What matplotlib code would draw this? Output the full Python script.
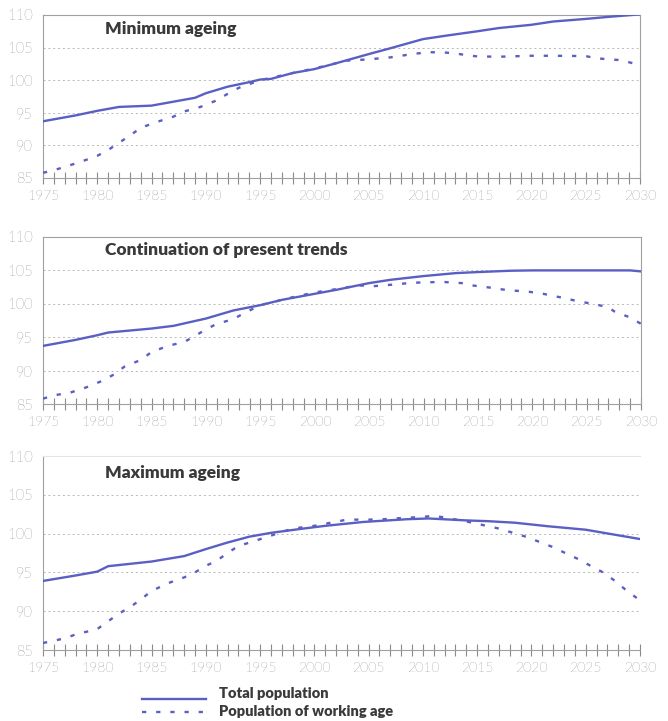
import matplotlib
matplotlib.use("Agg")
import matplotlib.pyplot as plt
from matplotlib.lines import Line2D

# ---- data: index of population (1995 = 100) ----
titles = ["Minimum ageing", "Continuation of present trends", "Maximum ageing"]

min_total_years = [1975, 1978, 1980, 1982, 1985, 1987, 1989, 1990, 1992, 1994, 1995, 1996, 1998,
                   2000, 2002, 2005, 2007, 2010, 2012, 2015, 2017, 2020, 2022, 2025, 2027, 2030]
min_total = [93.7, 94.6, 95.3, 95.9, 96.1, 96.7, 97.3, 98.0, 99.0, 99.7, 100.1, 100.2, 101.1,
             101.7, 102.6, 104.0, 104.9, 106.3, 106.8, 107.5, 108.0, 108.5, 109.0, 109.4, 109.7, 110.1]
min_work_years = [1975, 1976, 1977, 1978.5, 1980, 1981, 1982, 1983, 1984, 1985.5, 1987, 1988,
                  1989.5, 1991, 1992, 1993, 1995, 1998, 2000, 2002, 2003, 2005, 2007, 2009,
                  2010.5, 2012, 2013, 2014, 2015, 2017, 2020, 2022, 2025, 2026, 2028, 2029, 2030]
min_work = [85.8, 86.2, 86.7, 87.5, 88.4, 89.3, 90.4, 91.5, 92.7, 93.6, 94.4, 95.2,
            95.9, 96.9, 97.9, 98.8, 100.0, 101.1, 101.8, 102.6, 103.0, 103.2, 103.5, 104.0,
            104.3, 104.25, 104.1, 103.85, 103.65, 103.6, 103.75, 103.75, 103.7, 103.35, 103.1, 102.75, 102.3]

cont_total_years = [1975, 1978, 1980, 1981, 1985, 1987, 1990, 1992.5, 1995, 1997, 2000, 2002,
                    2005, 2007, 2010, 2013, 2015, 2018, 2020, 2025, 2029, 2030]
cont_total = [93.7, 94.6, 95.3, 95.7, 96.3, 96.7, 97.8, 99.0, 99.8, 100.6, 101.5, 102.1,
              103.1, 103.6, 104.15, 104.6, 104.75, 104.95, 105.0, 105.0, 105.0, 104.85]
cont_work_years = [1975, 1976, 1977.5, 1979, 1980.5, 1981.5, 1982.5, 1984, 1985, 1986.5, 1988,
                   1989, 1990, 1991, 1992.5, 1993.5, 1995, 1998, 2000, 2002, 2004, 2005.5, 2007,
                   2009, 2011, 2012, 2013.5, 2014.5, 2016, 2017, 2018, 2019.5, 2021, 2022, 2023,
                   2024, 2025.5, 2027, 2027.5, 2029, 2030]
cont_work = [85.8, 86.3, 86.7, 87.5, 88.5, 89.4, 90.6, 91.6, 92.8, 93.7, 94.3,
             95.2, 96.2, 97.0, 97.7, 98.6, 99.8, 101.0, 101.7, 102.2, 102.75, 102.65, 102.85,
             103.15, 103.25, 103.25, 103.1, 102.75, 102.45, 102.2, 102.0, 101.85, 101.5, 101.15, 100.85,
             100.45, 100.0, 99.5, 98.9, 97.95, 97.0]

max_total_years = [1975, 1978, 1980, 1981, 1985, 1988, 1990, 1992, 1994, 1996, 1999, 2001,
                   2004.5, 2008.5, 2010.5, 2014, 2016, 2018.5, 2021.5, 2025, 2027.5, 2030]
max_total = [93.9, 94.6, 95.1, 95.8, 96.4, 97.1, 98.0, 98.85, 99.6, 100.1, 100.65, 101.0,
             101.5, 101.85, 101.95, 101.7, 101.6, 101.4, 100.95, 100.5, 99.9, 99.3]
max_work_years = [1975, 1977, 1978, 1980, 1981, 1982, 1983, 1984, 1985, 1986.5, 1988, 1989,
                  1990, 1991, 1992, 1993, 1994.5, 1997, 1998, 2000, 2001.5, 2003, 2005, 2006.3,
                  2008, 2010, 2011, 2012.3, 2014.6, 2016, 2017, 2018.3, 2019.6, 2020.6, 2022,
                  2023.4, 2024.5, 2025.5, 2026.6, 2027.7, 2028.6, 2029.7, 2030]
max_work = [85.9, 86.5, 87.0, 87.7, 88.7, 89.7, 90.5, 91.5, 92.6, 93.6, 94.35, 95.0,
            95.85, 96.5, 97.5, 98.4, 99.05, 100.2, 100.65, 101.0, 101.4, 101.8, 101.8, 101.85,
            102.0, 102.15, 102.3, 102.0, 101.4, 100.95, 100.65, 100.1, 99.55, 99.0, 98.25,
            97.3, 96.6, 95.8, 95.0, 93.9, 92.85, 91.7, 91.3]

panels = [
    (min_total_years, min_total, min_work_years, min_work),
    (cont_total_years, cont_total, cont_work_years, cont_work),
    (max_total_years, max_total, max_work_years, max_work),
]

y_ticks = [85, 90, 95, 100, 105, 110]
x_ticks = list(range(1975, 2031, 5))
legend_labels = ["Total population", "Population of working age"]

# ---- style ----
LINE = "#5a5fc4"
TXT = "#3a3a3a"
AX = "#a0a0a0"
DASH = (0, (1.8, 4.2))
W, H = 668, 721

fig = plt.figure(figsize=(W / 100, H / 100), dpi=100)

# axes boxes in pixels: (left, right, top, bottom)
boxes = [(43, 640, 15, 178), (43, 641, 237, 404), (43, 640, 456, 650)]
title_pos = [(105, 29), (105, 250), (105, 473)]

for i, ((ty, tv, wy, wv), (l, r, t, b)) in enumerate(zip(panels, boxes)):
    ax = fig.add_axes([l / W, 1 - b / H, (r - l) / W, (b - t) / H])
    ax.set_xlim(1975, 2030)
    ax.set_ylim(85, 110)
    ax.plot(ty, tv, color=LINE, lw=1.7, solid_capstyle="round", zorder=3)
    ax.plot(wy, wv, color=LINE, lw=1.7, linestyle=DASH, zorder=3)

    for g in y_ticks[1:-1]:
        ax.axhline(g, color="#b8b8b8", lw=0.7, linestyle=(0, (2, 3)), zorder=1)

    ax.set_yticks(y_ticks)
    ax.set_xticks(x_ticks)
    ax.set_xticks(range(1975, 2031), minor=True)
    ax.tick_params(axis="y", length=0, pad=7, labelsize=10.5, labelcolor=TXT)
    ax.tick_params(axis="x", which="both", direction="inout", length=8, width=0.8,
                   color="#8a8a8a", labelsize=10, labelcolor=TXT, pad=5)
    for lab in ax.get_xticklabels() + ax.get_yticklabels():
        lab.set_family("Lato")
        lab.set_fontweight("light")

    for side in ["left", "bottom", "right", "top"]:
        ax.spines[side].set_color(AX)
        ax.spines[side].set_linewidth(0.8)
    if i == 2:
        ax.spines["right"].set_visible(False)
        ax.spines["top"].set_color("#e4e4e4")

    fx, fy = title_pos[i]
    fig.text(fx / W, 1 - fy / H, titles[i], fontsize=12.5, fontweight="heavy",
             family="Lato", color=TXT, va="center", ha="left")

# ---- legend ----
fig.add_artist(Line2D([142 / W, 206 / W], [1 - 699 / H, 1 - 699 / H], color=LINE, lw=1.7))
fig.add_artist(Line2D([142 / W, 206 / W], [1 - 712 / H, 1 - 712 / H], color=LINE, lw=1.7,
                      linestyle=DASH))
fig.text(219 / W, 1 - 694 / H, legend_labels[0], fontsize=10.5, fontweight="heavy",
         family="Lato", color=TXT, va="center", ha="left")
fig.text(219 / W, 1 - 711 / H, legend_labels[1], fontsize=10.5, fontweight="heavy",
         family="Lato", color=TXT, va="center", ha="left")

fig.savefig("out.png", dpi=100, facecolor="white")
